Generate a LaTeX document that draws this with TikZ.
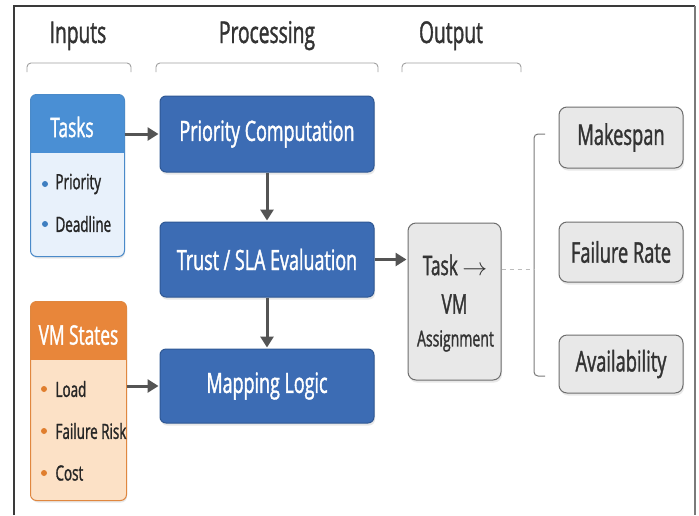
\documentclass[tikz,border=0pt]{standalone}
\usepackage{fontspec}
\setmainfont{Open Sans}[FakeStretch=0.64, FakeBold=1.3]
\usetikzlibrary{arrows.meta,shadows}

\definecolor{procblue}{HTML}{3C6CB4}
\definecolor{procedge}{HTML}{2F5894}
\definecolor{taskhead}{HTML}{4A8FD4}
\definecolor{taskbody}{HTML}{E8F1FB}
\definecolor{taskedge}{HTML}{4A8AC9}
\definecolor{taskdot}{HTML}{3F7FC0}
\definecolor{vmhead}{HTML}{E8863A}
\definecolor{vmbody}{HTML}{FCE1C6}
\definecolor{vmedge}{HTML}{E0873F}
\definecolor{vmdot}{HTML}{E07E2E}
\definecolor{outfill}{HTML}{E8E8E8}
\definecolor{outedge}{HTML}{6E6E6E}
\definecolor{arrowgray}{HTML}{545454}
\definecolor{textdark}{HTML}{333333}
\definecolor{bracketgray}{HTML}{A0A0A0}
\definecolor{framedark}{HTML}{3A3A3A}
\definecolor{framegray}{HTML}{7A7A7A}

\tikzset{
  softshadow/.style={drop shadow={opacity=0.18, shadow xshift=1pt, shadow yshift=-2.5pt}},
  colhead/.style={text=textdark, font=\fontsize{30}{32}\selectfont, anchor=base},
  colbracket/.style={draw=bracketgray, line width=0.9pt, rounded corners=4pt},
  procbox/.style={draw=procedge, line width=1pt, fill=procblue, rounded corners=6pt,
    text=white, font=\fontsize{28}{30}\selectfont, minimum width=214pt, softshadow},
  inbox/.style={line width=1pt, rounded corners=6pt, softshadow},
  headtext/.style={text=white, font=\fontsize{27}{29}\selectfont},
  itemtext/.style={text=black!85, font=\fontsize{21}{23}\selectfont, anchor=west},
  graybox/.style={draw=outedge, line width=1pt, fill=outfill, rounded corners=8pt,
    text=textdark, softshadow},
  metric/.style={graybox, minimum width=124pt, font=\fontsize{28.5}{30}\selectfont},
  flow/.style={draw=arrowgray, line width=3pt, -{Triangle[length=11pt,width=13pt]}, shorten >=1pt},
}

\begin{document}
\begin{tikzpicture}[x=1pt,y=-1pt]
\useasboundingbox (0,0) rectangle (699,515);
\fill[white] (0,0) rectangle (699,515);

% page frame
\draw[framedark, line width=1.3pt] (14,515) -- (14,6) -- (695,6);
\draw[framegray, line width=2.6pt] (695,6) -- (695,515);

% column titles and their brackets
\node[colhead] (hin)  at (78,43)  {Inputs};
\node[colhead] (hpro) at (267,43) {Processing};
\node[colhead] (hout) at (451,43) {Output};
\draw[colbracket] (27,72) -- (27,63) -- (131,63) -- (131,72);
\draw[colbracket] (156,72) -- (156,63) -- (378,63) -- (378,72);
\draw[colbracket] (402,72) -- (402,63) -- (521,63) -- (521,72);

% Tasks input card
\node[inbox, fill=taskbody, minimum width=93pt, minimum height=161pt] (tasks) at (77.5,175.5) {};
\begin{scope}
  \clip[rounded corners=6pt] (tasks.north west) rectangle (tasks.south east);
  \fill[taskhead] (tasks.north west) rectangle (130,153);
\end{scope}
\draw[taskedge, line width=1pt, rounded corners=6pt] (tasks.north west) rectangle (tasks.south east);
\node[headtext] (tasksh) at (72,127) {Tasks};
\fill[taskdot] (45,184) circle (3pt);
\node[itemtext] (tprio) at (52,184) {Priority};
\fill[taskdot] (45,224) circle (3pt);
\node[itemtext] (tdead) at (52,224) {Deadline};

% VM states input card
\node[inbox, fill=vmbody, minimum width=95pt, minimum height=198pt] (vms) at (78.5,401) {};
\begin{scope}
  \clip[rounded corners=6pt] (vms.north west) rectangle (vms.south east);
  \fill[vmhead] (vms.north west) rectangle (130,360);
\end{scope}
\draw[vmedge, line width=1pt, rounded corners=6pt] (vms.north west) rectangle (vms.south east);
\node[headtext] (vmsh) at (78.5,335) {VM States};
\fill[vmdot] (44,389) circle (3pt);
\node[itemtext] (vload) at (52,389) {Load};
\fill[vmdot] (44,431) circle (3pt);
\node[itemtext] (vfail) at (52,431) {Failure Risk};
\fill[vmdot] (44,473) circle (3pt);
\node[itemtext] (vcost) at (52,473) {Cost};

% processing chain
\node[procbox, minimum height=76pt] (prio)  at (267,134)   {Priority Computation};
\node[procbox, minimum height=75pt] (trust) at (267,259.5) {Trust / SLA Evaluation};
\node[procbox, minimum height=74pt] (map)   at (267,386)   {Mapping Logic};

% assignment output
\node[graybox, minimum width=93pt, minimum height=157pt] (assign) at (454.5,301.5) {};
\node[text=textdark, font=\fontsize{27}{29}\selectfont] (al1) at (455,265) {Task \(\rightarrow\)};
\node[text=textdark, font=\fontsize{27}{29}\selectfont] (al2) at (454.5,304) {VM};
\node[text=textdark, font=\fontsize{22}{24}\selectfont] (al3) at (455.5,341) {Assignment};

% metrics
\node[metric, minimum height=61pt] (mk)  at (621,137.5) {Makespan};
\node[metric, minimum height=60pt] (fr)  at (621,252)   {Failure Rate};
\node[metric, minimum height=58pt] (av)  at (621,364)   {Availability};

% bracket grouping the metrics
\coordinate (btop) at (545,134);
\coordinate (bbot) at (545,376);
\coordinate (bmid) at (534,269);
\draw[draw=framegray, line width=1pt, rounded corners=4pt] (btop) -- (534,134) -- (534,376) -- (bbot);

% connectors
\draw[flow] (tasks.east |- prio.west) -- (prio.west);
\draw[flow] (vms.east |- map.west) -- (map.west);
\draw[flow] (prio.south) -- (trust.north);
\draw[flow] (trust.south) -- (map.north);
\draw[flow] (trust.east) -- (trust.east -| assign.west);
\draw[bracketgray!70, line width=1pt, dash pattern=on 4pt off 4pt] (assign.east |- bmid) -- (bmid);
\end{tikzpicture}
\end{document}
